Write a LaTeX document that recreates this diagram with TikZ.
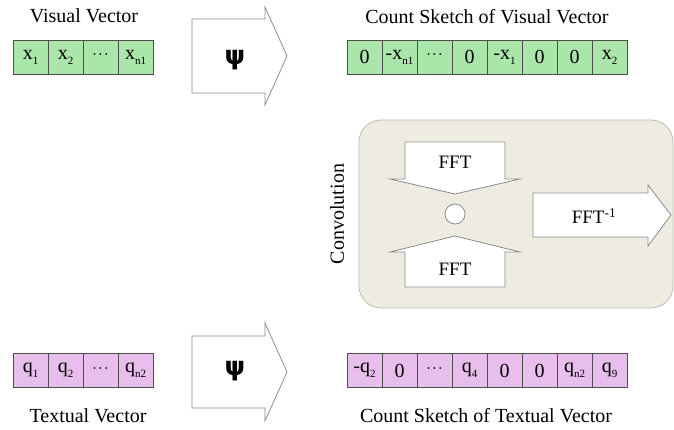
\documentclass[tikz,border=0pt]{standalone}
\usepackage{fontspec}
\setmainfont{Liberation Serif}
\newfontfamily\psifont{DejaVu Sans}

\definecolor{vgreen}{HTML}{AAE6AA}
\definecolor{tpink}{HTML}{E8BEEC}
\definecolor{cellline}{HTML}{4D4D4D}
\definecolor{arrowline}{HTML}{8C8C8C}
\definecolor{convfill}{HTML}{EEECE1}
\definecolor{convline}{HTML}{BDBDB5}

% low, small index used inside the vector cells
\newcommand{\cellsub}[1]{\raisebox{-5pt}{\fontsize{11}{11}\selectfont #1}}
% spaced centred dots for the elided entries
\newcommand{\celldots}{{\fontsize{15}{15}\selectfont ·\kern1pt·\kern1pt·}}

\begin{document}
\begin{tikzpicture}[x=1pt,y=-1pt,
  cell/.style={draw=cellline, line width=0.8pt, minimum width=35pt,
    minimum height=34pt, inner sep=0pt, font=\fontsize{20}{24}\selectfont},
  vcell/.style={cell, fill=vgreen},
  tcell/.style={cell, fill=tpink},
  caption/.style={font=\fontsize{20}{24}\selectfont, inner sep=0pt, anchor=base},
  blockarrow/.style={draw=arrowline, line width=0.8pt, fill=white, line join=miter},
  arrowtext/.style={font=\fontsize{19}{22}\selectfont, inner sep=0pt},
  psitext/.style={font=\psifont\bfseries\fontsize{26}{28}\selectfont, inner sep=0pt}
]
\useasboundingbox (0,0) rectangle (674,430);

% ---------- visual vector ----------
\node[caption] (vtitle) at (84,23) {Visual Vector};
\node[vcell] (v1) at (30.5,57) {x\cellsub{1}};
\node[vcell] (v2) at (65.5,57) {x\cellsub{2}};
\node[vcell] (v3) at (100.5,57) {\celldots};
\node[vcell] (v4) at (135.5,57) {x\cellsub{n1}};

% ---------- textual vector ----------
\node[tcell] (t1) at (30.5,370.5) {q\cellsub{1}};
\node[tcell] (t2) at (65.5,370.5) {q\cellsub{2}};
\node[tcell] (t3) at (100.5,370.5) {\celldots};
\node[tcell] (t4) at (135.5,370.5) {q\cellsub{n2}};
\node[caption] (ttitle) at (88,422) {Textual Vector};

% ---------- psi mapping arrows ----------
\draw[blockarrow] (192,19) -- (265,19) -- (265,7) -- (287,56)
  -- (265,105) -- (265,93) -- (192,93) -- cycle;
\node[psitext] (psi1) at (235,60) {ψ};

\draw[blockarrow] (192,336) -- (265,336) -- (265,323) -- (287,372)
  -- (265,421) -- (265,408) -- (192,408) -- cycle;
\node[psitext] (psi2) at (235,371) {ψ};

% ---------- count sketch of visual vector ----------
\node[caption] (cvtitle) at (487,24) {Count Sketch of Visual Vector};
\node[vcell] (cv1) at (364.5,57) {0};
\node[vcell] (cv2) at (399.5,57) {-x\cellsub{n1}};
\node[vcell] (cv3) at (434.5,57) {\celldots};
\node[vcell] (cv4) at (469.5,57) {0};
\node[vcell] (cv5) at (504.5,57) {-x\cellsub{1}};
\node[vcell] (cv6) at (539.5,57) {0};
\node[vcell] (cv7) at (574.5,57) {0};
\node[vcell] (cv8) at (609.5,57) {x\cellsub{2}};

% ---------- count sketch of textual vector ----------
\node[tcell] (ct1) at (364.5,370.5) {-q\cellsub{2}};
\node[tcell] (ct2) at (399.5,370.5) {0};
\node[tcell] (ct3) at (434.5,370.5) {\celldots};
\node[tcell] (ct4) at (469.5,370.5) {q\cellsub{4}};
\node[tcell] (ct5) at (504.5,370.5) {0};
\node[tcell] (ct6) at (539.5,370.5) {0};
\node[tcell] (ct7) at (574.5,370.5) {q\cellsub{n2}};
\node[tcell] (ct8) at (609.5,370.5) {q\cellsub{9}};
\node[caption] (cttitle) at (486,422) {Count Sketch of Textual Vector};

% ---------- convolution block ----------
\draw[draw=convline, line width=0.8pt, fill=convfill, rounded corners=22pt]
  (359,120) rectangle (673,308);
\node[font=\fontsize{20}{24}\selectfont, rotate=90, inner sep=0pt]
  (convlabel) at (337,214) {Convolution};

% FFT of the visual sketch (pointing down)
\draw[blockarrow] (405,142) -- (505,142) -- (505,179) -- (520,179)
  -- (455,194) -- (390,179) -- (405,179) -- cycle;
\node[arrowtext] (fft1) at (455,162) {FFT};

% product of the two spectra
\node[circle, draw=arrowline, line width=0.8pt, fill=white,
  minimum size=20pt, inner sep=0pt] (prod) at (455,214) {};

% FFT of the textual sketch (pointing up)
\draw[blockarrow] (455,236) -- (520,252) -- (505,252) -- (505,287)
  -- (405,287) -- (405,252) -- (390,252) -- cycle;
\node[arrowtext] (fft2) at (455,269) {FFT};

% inverse FFT
\draw[blockarrow] (533,193) -- (648,193) -- (648,185) -- (671,215)
  -- (648,246) -- (648,237) -- (533,237) -- cycle;
\node[arrowtext] (ifft) at (594,216) {FFT\textsuperscript{-1}};
\end{tikzpicture}
\end{document}
